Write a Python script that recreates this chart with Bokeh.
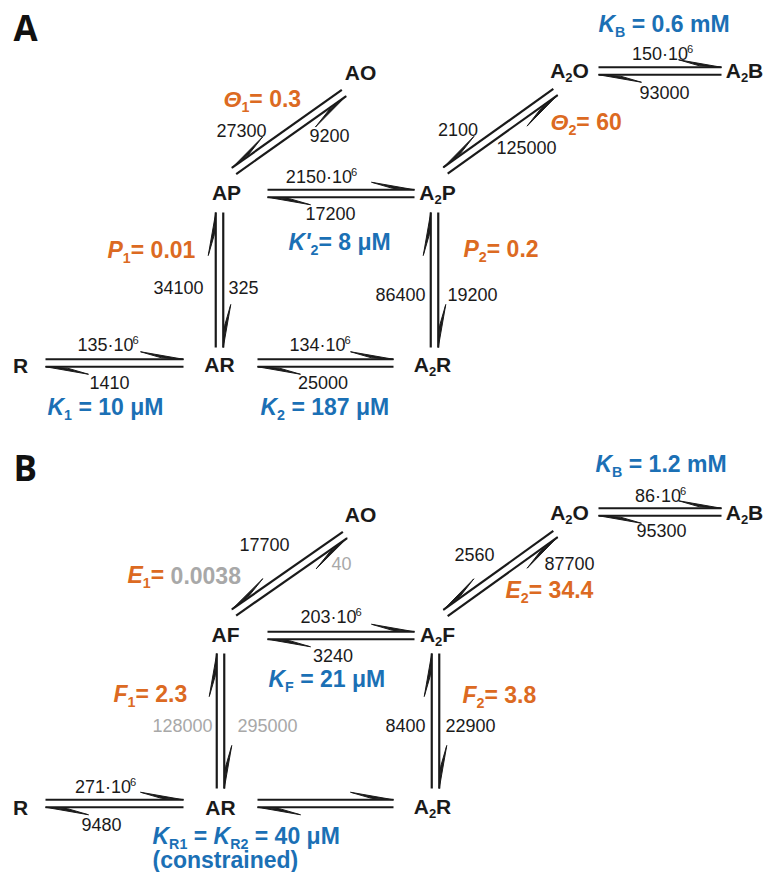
import numpy as np
from bokeh.plotting import figure
from bokeh.models import ColumnDataSource, Range1d
from bokeh.core.properties import value
from bokeh.embed import file_html
from bokeh.resources import INLINE

# ------------------------------------------------------------------ data
panel_letters = ["A", "B"]

# species of each scheme (markup: _{..} subscript, ^{..} superscript, *..* italic, #..# grey)
nodes_A = ["R", "AR", "A_{2}R", "AP", "A_{2}P", "AO", "A_{2}O", "A_{2}B"]
nodes_B = ["R", "AR", "A_{2}R", "AF", "A_{2}F", "AO", "A_{2}O", "A_{2}B"]

# transitions (from, to) by node index
edges = [(0, 1), (1, 2), (3, 4), (6, 7), (3, 5), (4, 6), (1, 3), (2, 4)]

# rate constants (forward = from->to, backward = to->from)
fwd_A = [135e6, 134e6, 2150e6, 150e6, 9200, 125000, 325, 19200]
bwd_A = [1410, 25000, 17200, 93000, 27300, 2100, 34100, 86400]
fwd_B = [271e6, None, 203e6, 86e6, 40, 87700, 295000, 22900]
bwd_B = [9480, None, 3240, 95300, 17700, 2560, 128000, 8400]
fwd_grey_B = [False, False, False, False, True, False, True, False]
bwd_grey_B = [False, False, False, False, False, False, True, False]

# equilibrium constants
consts_A = ["*K*_{B} = 0.6 mM", "*Θ*_{1}= 0.3", "*Θ*_{2}= 60", "*K'*_{2}= 8 μM",
            "*P*_{1}= 0.01", "*P*_{2}= 0.2", "*K*_{1} = 10 μM", "*K*_{2} = 187 μM"]
consts_A_kind = ["b", "o", "o", "b", "o", "o", "b", "b"]
consts_B = ["*K*_{B} = 1.2 mM", "*E*_{1}= #0.0038#", "*E*_{2}= 34.4", "*K*_{F} = 21 μM",
            "*F*_{1}= 2.3", "*F*_{2}= 3.8", "*K*_{R1} = *K*_{R2} = 40 μM", "(constrained)"]
consts_B_kind = ["b", "o", "o", "b", "o", "o", "b", "b"]

# ------------------------------------------------------------------ layout (picture pixels)
node_xy_A = [(20, 365), (219, 364.5), (432, 364), (226, 192.5), (437, 192.5),
             (360, 72.5), (569, 70.5), (744, 70.5)]
node_xy_B = [(20, 807.5), (220, 807), (432, 806.5), (225, 634.5), (437, 634.5),
             (360, 514.5), (569, 512.5), (744, 512.5)]
# arrow centre lines per edge: x0, y0, x1, y1, side
arrow_A = [(45, 362.5, 183, 362.5, 1), (257, 362.5, 393, 362.5, 1),
           (267, 193, 414, 193, 1), (598, 70.5, 721, 70.5, 1),
           (233.5, 170.5, 343.5, 92.5, -1), (445, 170, 555, 91.5, -1),
           (219, 347, 219, 212, 1), (434, 347, 434, 212, 1)]
arrow_B = [(45, 803, 183, 803, 1), (257, 803, 393, 803, 1),
           (267, 635, 414, 635, 1), (598, 511.5, 721, 511.5, 1),
           (233.5, 612, 344.5, 534.5, -1), (445, 612.5, 555, 533.5, -1),
           (220, 788, 220, 653, 1), (435, 788, 435, 653, 1)]
# rate label anchors: (x, y, align) forward / backward
fwd_pos_A = [(107.5, 345, "c"), (319.5, 345, "c"), (321, 177, "c"), (662, 54, "c"),
             (329, 135, "c"), (526, 147.5, "c"), (228, 287.5, "l"), (447, 294, "l")]
bwd_pos_A = [(109, 382.5, "c"), (322.5, 382.5, "c"), (330, 213.5, "c"), (664, 92.5, "c"),
             (241, 130.5, "c"), (457.5, 129.5, "c"), (203, 287.5, "r"), (425, 294, "r")]
fwd_pos_B = [(105, 787, "c"), None, (330.5, 617, "c"), (660, 496, "c"),
             (341, 563.5, "c"), (569, 563.5, "c"), (237, 725.5, "l"), (445, 725.5, "l")]
bwd_pos_B = [(101, 824.5, "c"), None, (332.5, 655.5, "c"), (661, 530, "c"),
             (264, 544.5, "c"), (474, 554.5, "c"), (212, 725.5, "r"), (425, 725.5, "r")]
const_pos_A = [(598, 23.5), (223, 98.5), (550, 121.5), (288, 241.5),
               (107, 250), (463, 248.5), (47, 406.5), (260, 406.5)]
const_pos_B = [(595, 463.5), (127, 575), (505, 590), (268, 678.5),
               (113, 693.5), (462, 695), (152, 836), (152, 859.5)]
letter_pos = [(13, 28.5), (13, 468.5)]

BLACK, GREY = "#1a1a1a", "#a8a8a8"
ORANGE, BLUE = "#dc6a22", "#1b70b5"
FONT = "Liberation Sans"
SUB = 0.62       # relative size of sub/superscripts
MID = 0.37       # renderer: baseline sits this many em below the given y

# ------------------------------------------------------------------ text helpers
REG = {c: 556 for c in "0123456789"}
REG.update({"·": 278, " ": 278, ".": 278, "=": 584})
BOLD = {c: 556 for c in "0123456789"}
BOLD.update({"A": 722, "B": 722, "E": 667, "F": 611, "K": 722, "M": 833, "O": 778,
             "P": 667, "R": 722, "m": 889, " ": 278, "=": 584, ".": 278, "(": 333,
             ")": 333, "c": 556, "o": 611, "n": 611, "s": 556, "t": 333, "r": 389,
             "a": 556, "i": 278, "e": 556, "d": 611, "'": 238, "μ": 600, "Θ": 778})


def parse(s):
    segs, i, ital, grey = [], 0, False, False
    buf = ""

    def flush(role="n"):
        nonlocal buf
        if buf:
            segs.append((buf, role, ital, grey))
        buf = ""
    while i < len(s):
        c = s[i]
        if c in "_^" and i + 1 < len(s) and s[i + 1] == "{":
            flush()
            j = s.index("}", i)
            buf = s[i + 2:j]
            flush("sub" if c == "_" else "sup")
            i = j + 1
            continue
        if c == "*":
            flush(); ital = not ital
        elif c == "#":
            flush(); grey = not grey
        else:
            buf += c
        i += 1
    flush()
    return segs


def fmt_rate(v):
    if v >= 1e6:
        return f"{v / 1e6:g}·10^{{6}}"
    return f"{v:g}"


T = dict(x=[], y=[], text=[], size=[], style=[], color=[], font=[])


def put(x, y, s, size, align="c", bold=False, color=BLACK):
    """x, y = anchor; y = cap-centre of the main text."""
    segs = parse(s)
    table = BOLD if bold else REG
    items = []
    for txt, role, it, gr in segs:
        sz = size * (SUB if role != "n" else 1.0)
        w = lambda t: sum(table.get(ch, 556) for ch in t) / 1000 * sz
        core = txt.strip(" ")
        lead = txt[:len(txt) - len(txt.lstrip(" "))]
        trail = txt[len(txt.rstrip(" ")):] if core else ""
        items.append((core, role, it, gr, sz, w(lead), w(core), w(trail)))
    total = sum(a + b + c for *_, a, b, c in items)
    cx = x - (total / 2 if align == "c" else total if align == "r" else 0)
    base = y + 0.358 * size
    for core, role, it, gr, sz, wl, wc, wt in items:
        cx += wl
        b = base + (0.2 * size if role == "sub" else -0.42 * size if role == "sup" else 0)
        st = ("bold " if bold else "") + ("italic" if it else "")
        st = st.strip() or "normal"
        if core:
            T["x"].append(cx); T["y"].append(b - MID * sz); T["text"].append(core)
            T["size"].append(f"{sz:.2f}px"); T["style"].append(st)
            T["color"].append(GREY if gr else color); T["font"].append(FONT)
        cx += wc + wt


# ------------------------------------------------------------------ figure
W, H = 767, 872
p = figure(width=W, height=H, x_range=Range1d(0, W), y_range=Range1d(H, 0),
           output_backend="svg", toolbar_location=None, min_border=0,
           x_axis_location=None, y_axis_location=None)
p.xgrid.visible = False
p.ygrid.visible = False
p.outline_line_color = None

lines_x, lines_y, barb_x, barb_y = [], [], [], []
SEP = 7.5


def harpoon(a, b, o):
    u = (b - a) / np.hypot(*(b - a))
    lines_x.append([a[0], b[0]]); lines_y.append([a[1], b[1]])
    pts = [b, b - 43 * u + 7.5 * o, b - 22 * u + 1.4 * o]
    barb_x.append([q[0] for q in pts]); barb_y.append([q[1] for q in pts])


def draw_scheme(nodes, arrows, fwd, bwd, fpos, bpos, fgrey, bgrey, node_xy,
                consts, kinds, cpos):
    for (x0, y0, x1, y1, side) in arrows:
        p0, p1 = np.array([x0, y0], float), np.array([x1, y1], float)
        u = (p1 - p0) / np.hypot(*(p1 - p0))
        n = np.array([u[1], -u[0]]) * side
        harpoon(p0 + n * SEP / 2, p1 + n * SEP / 2, n)
        harpoon(p1 - n * SEP / 2, p0 - n * SEP / 2, -n)
    for name, (x, y) in zip(nodes, node_xy):
        put(x, y, name, 21, "c", bold=True)
    for vals, pos, greys in ((fwd, fpos, fgrey), (bwd, bpos, bgrey)):
        for v, ps, g in zip(vals, pos, greys):
            if v is None:
                continue
            put(ps[0], ps[1], fmt_rate(v), 18, ps[2], color=GREY if g else BLACK)
    for s, k, (x, y) in zip(consts, kinds, cpos):
        put(x, y, s, 23, "l", bold=True, color=BLUE if k == "b" else ORANGE)


draw_scheme(nodes_A, arrow_A, fwd_A, bwd_A, fwd_pos_A, bwd_pos_A,
            [False] * 8, [False] * 8, node_xy_A, consts_A, consts_A_kind, const_pos_A)
draw_scheme(nodes_B, arrow_B, fwd_B, bwd_B, fwd_pos_B, bwd_pos_B,
            fwd_grey_B, bwd_grey_B, node_xy_B, consts_B, consts_B_kind, const_pos_B)

p.multi_line(xs=lines_x, ys=lines_y, line_color=BLACK, line_width=2.2)
p.patches(xs=barb_x, ys=barb_y, fill_color=BLACK, line_color=BLACK, line_width=1,
          line_join="round")

src = ColumnDataSource(T)
p.text(x="x", y="y", text="text", source=src, text_font="font", text_font_size="size",
       text_font_style="style", text_color="color", text_align="left",
       text_baseline="alphabetic")

# panel letters
L = ColumnDataSource(dict(x=[q[0] for q in letter_pos],
                          y=[q[1] + (0.357 - 0.388) * 35 for q in letter_pos],
                          text=panel_letters))
p.text(x="x", y="y", text="text", source=L, text_font=value("Open Sans"),
       text_font_size="35px", text_font_style="bold", text_color="#111111",
       text_align="left", text_baseline="alphabetic")

open("out.html", "w").write(file_html(p, INLINE))
